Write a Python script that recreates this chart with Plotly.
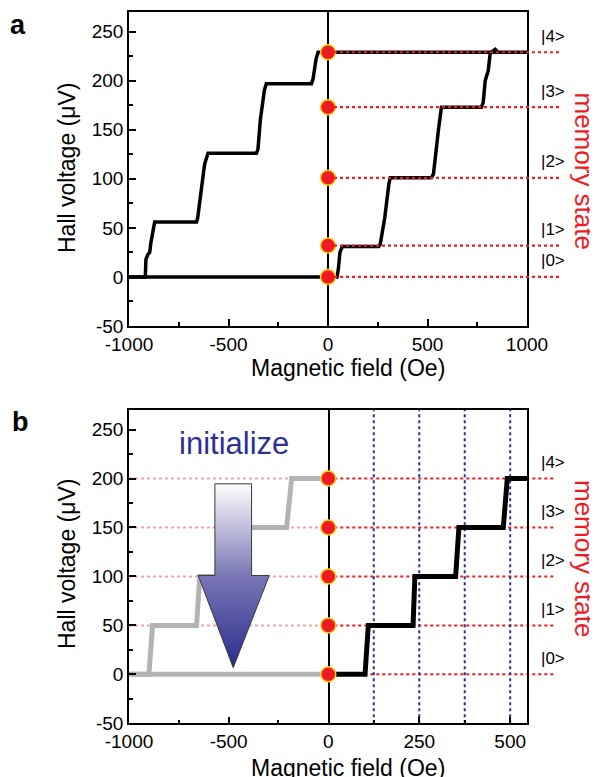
import plotly.graph_objects as go

FW, FH = 590, 769          # figure size (page body adds an 8px margin)
OFF = 8
FONT = "Liberation Sans, Arial, sans-serif"
RED = "#ed1c24"
NAVY = "#2e3192"

# ---------------- data ----------------
# panel a : measured Hall voltage vs field (two sweep branches)
a_upper_x = [-1000, -918, -915, -905, -896, -890, -871, -661, -655, -640, -620, -603,
             -360, -352, -340, -320, -310, -83, -75, -60, -50, 1000]
a_upper_y = [0, 0, 18, 23, 25, 35, 56, 56, 60, 85, 115, 126,
             126, 130, 160, 190, 197, 197, 202, 222, 229, 229]
a_lower_x = [-1000, 45, 52, 60, 72, 255, 262, 285, 306, 313, 520, 530, 555, 570,
             771, 780, 790, 798, 805, 815, 821, 840, 853]
a_lower_y = [0, 0, 8, 25, 31, 31, 33, 60, 95, 101, 101, 105, 150, 173,
             173, 178, 200, 205, 210, 228, 229, 232, 229]
states_a = [0, 32, 101, 173, 229]

# panel b : idealised staircase
b_gray_base_x = [-1000, 0]
b_gray_base_y = [0, 0]
b_gray_x = [-1000, -900, -882, -661, -645, -440, -425, -209, -184, 0]
b_gray_y = [0, 0, 50, 50, 100, 100, 150, 150, 200, 200]
b_black_x = [0, 101, 110, 233, 238, 350, 359, 481, 492, 547]
b_black_y = [0, 0, 50, 50, 100, 100, 150, 150, 200, 200]
states_b = [0, 50, 100, 150, 200]
b_pulse_fields = [125, 250, 375, 500]
state_labels = ["|0>", "|1>", "|2>", "|3>", "|4>"]

# tick labels
ya_ticks = [-50, 0, 50, 100, 150, 200, 250]
ya_text = ["-50", "0", "50", "100", "150", "200", "250"]
y_minor = [-25, 25, 75, 125, 175, 225]
xa_ticks = [-1000, -500, 0, 500, 1000]
xa_text = ["-1000", "-500", "0", "500", "1000"]
xa_minor = [-750, -250, 250, 750]
xb_left_ticks = [-1000, -500, 0]
xb_left_text = ["-1000", "-500", "0"]
xb_left_minor = [-750, -250]
xb_right_ticks = [250, 500]
xb_right_text = ["250", "500"]
xb_right_minor = [125, 375]

# "initialize" arrow outline (left axis of panel b)
arrow_x = [-569, -385, -385, -296, -477, -653, -569, -569]
arrow_y = [194.6, 194.6, 101, 101, 6.8, 101, 101, 194.6]

# ---------------- layout geometry (image pixels -> paper) ----------------
def px_x(p):
    return (p - OFF) / FW

def px_y(p):
    return 1 - (p - OFF) / FH

L, R = 129, 527
A_TOP, A_BOT = 12, 326
B_TOP, B_BOT = 410, 723.3
B_MID = 328.3
B_R = 527.3
Y_RANGE = [-50, 270]

fig = go.Figure()

# ---- panel a ----
for xs, ys in ((a_upper_x, a_upper_y), (a_lower_x, a_lower_y)):
    fig.add_trace(go.Scatter(x=xs, y=ys, mode="lines",
                             line=dict(color="black", width=3.5), xaxis="x", yaxis="y",
                             showlegend=False, hoverinfo="skip"))

# ---- panel b ----
fig.add_trace(go.Scatter(x=b_gray_base_x, y=b_gray_base_y, mode="lines",
                         line=dict(color="#b3b3b3", width=5), xaxis="x2", yaxis="y2",
                         showlegend=False, hoverinfo="skip"))
fig.add_trace(go.Scatter(x=b_gray_x, y=b_gray_y, mode="lines",
                         line=dict(color="#b3b3b3", width=5), xaxis="x2", yaxis="y2",
                         showlegend=False, hoverinfo="skip"))
fig.add_trace(go.Scatter(x=arrow_x, y=arrow_y, mode="lines", fill="toself",
                         fillgradient=dict(type="vertical",
                                           colorscale=[[0, "#2a2c8c"], [0.5, "#7a77b6"], [1, "#ffffff"]]),
                         line=dict(color="#3a3a3a", width=1), xaxis="x2", yaxis="y2",
                         showlegend=False, hoverinfo="skip"))
fig.add_trace(go.Scatter(x=b_black_x, y=b_black_y, mode="lines",
                         line=dict(color="black", width=5), xaxis="x3", yaxis="y2",
                         showlegend=False, hoverinfo="skip"))

# state dots
dot = dict(size=15, color=RED, line=dict(color="#f7d117", width=1.5))
fig.add_trace(go.Scatter(x=[0] * len(states_a), y=states_a, mode="markers", marker=dot,
                         xaxis="x", yaxis="y", cliponaxis=False, showlegend=False, hoverinfo="skip"))
fig.add_trace(go.Scatter(x=[0] * len(states_b), y=states_b, mode="markers", marker=dot,
                         xaxis="x3", yaxis="y3", cliponaxis=False, showlegend=False, hoverinfo="skip"))

shapes = []
# panel a red dotted state lines (on top of the curve, extending past the frame)
for s in states_a:
    shapes.append(dict(type="line", xref="x domain", yref="y", x0=0.5, x1=(561 - L) / (R - L),
                       y0=s, y1=s, line=dict(color=RED, width=2.2, dash="dot"), layer="above"))
# panel b: faint pink on the left, red on the right (below the staircase)
for s in states_b:
    shapes.append(dict(type="line", xref="x2 domain", yref="y2", x0=0, x1=1,
                       y0=s, y1=s, line=dict(color="#f2a3a8", width=2, dash="dot"), layer="below"))
    shapes.append(dict(type="line", xref="x3 domain", yref="y2", x0=0, x1=(555 - B_MID) / (B_R - B_MID),
                       y0=s, y1=s, line=dict(color=RED, width=2, dash="dot"), layer="below"))
# panel b blue dotted pulse-field lines
for f in b_pulse_fields:
    shapes.append(dict(type="line", xref="x3", yref="y2 domain", x0=f, x1=f, y0=0, y1=1,
                       line=dict(color=NAVY, width=2, dash="dot"), layer="below"))

ann = []
def text(t, x, y, size, color="black", angle=0, xref="paper", yref="paper", yshift=0):
    ann.append(dict(text=t, xref=xref, yref=yref, x=x, y=y, yshift=yshift, textangle=angle,
                    xanchor="center", yanchor="middle", showarrow=False,
                    font=dict(size=size, color=color, family=FONT)))

for s, t in zip(states_a, state_labels):
    text(t, px_x(553), s, 17, yref="y", yshift=16)
for s, t in zip(states_b, state_labels):
    text(t, px_x(553), s, 17, yref="y2", yshift=16)
for yc in (171.5, 559):
    text("memory state", px_x(584), px_y(yc), 26, color=RED, angle=90)
for yc in (168, 564):
    text("Hall voltage (μV)", px_x(67), px_y(yc), 23, angle=-90)
for yc in (368, 768):
    text("Magnetic field (Oe)", px_x(348.5), px_y(yc), 23)
text("<b>a</b>", px_x(18), px_y(25), 27)
text("<b>b</b>", px_x(20), px_y(422), 27)
text("initialize", px_x(233.5), px_y(443), 31, color=NAVY)

axis_common = dict(showline=True, linecolor="black", linewidth=1.5, showgrid=False,
                   ticks="inside", ticklen=7, tickwidth=1.5, tickcolor="black",
                   tickfont=dict(size=19, color="black", family=FONT), zeroline=False,
                   automargin=False, tickmode="array")
minor_common = dict(ticks="inside", ticklen=4, tickwidth=1.5, tickcolor="black", showgrid=False)

fig.update_layout(
    template="none",
    width=FW, height=FH, autosize=False,
    margin=dict(l=0, r=0, t=0, b=0, pad=0),
    paper_bgcolor="white", plot_bgcolor="white",
    font=dict(family=FONT, color="black"),
    shapes=shapes, annotations=ann,
    xaxis=dict(axis_common, domain=[px_x(L), px_x(R)], range=[-1000, 1000], anchor="y",
               mirror=True, tickvals=xa_ticks, ticktext=xa_text,
               minor=dict(minor_common, tickvals=xa_minor),
               zeroline=True, zerolinecolor="black", zerolinewidth=1.5),
    yaxis=dict(axis_common, domain=[px_y(A_BOT), px_y(A_TOP)], range=Y_RANGE, anchor="x",
               mirror=True, tickvals=ya_ticks, ticktext=ya_text,
               minor=dict(minor_common, tickvals=y_minor)),
    xaxis2=dict(axis_common, domain=[px_x(L), px_x(B_MID)], range=[-1000, 0], anchor="y2",
                mirror=True, tickvals=xb_left_ticks, ticktext=xb_left_text,
                minor=dict(minor_common, tickvals=xb_left_minor)),
    xaxis3=dict(axis_common, domain=[px_x(B_MID), px_x(B_R)], range=[0, 547], anchor="y2",
                mirror=True, tickvals=xb_right_ticks, ticktext=xb_right_text,
                minor=dict(minor_common, tickvals=xb_right_minor)),
    yaxis2=dict(axis_common, domain=[px_y(B_BOT), px_y(B_TOP)], range=Y_RANGE, anchor="x2",
                mirror=True, tickvals=ya_ticks, ticktext=ya_text,
                minor=dict(minor_common, tickvals=y_minor)),
    yaxis3=dict(showline=True, linecolor="black", linewidth=1.5, showgrid=False, zeroline=False,
                ticks="", showticklabels=False, automargin=False,
                overlaying="y2", anchor="x3", side="right", range=Y_RANGE),
)

fig.write_html("out.html")
